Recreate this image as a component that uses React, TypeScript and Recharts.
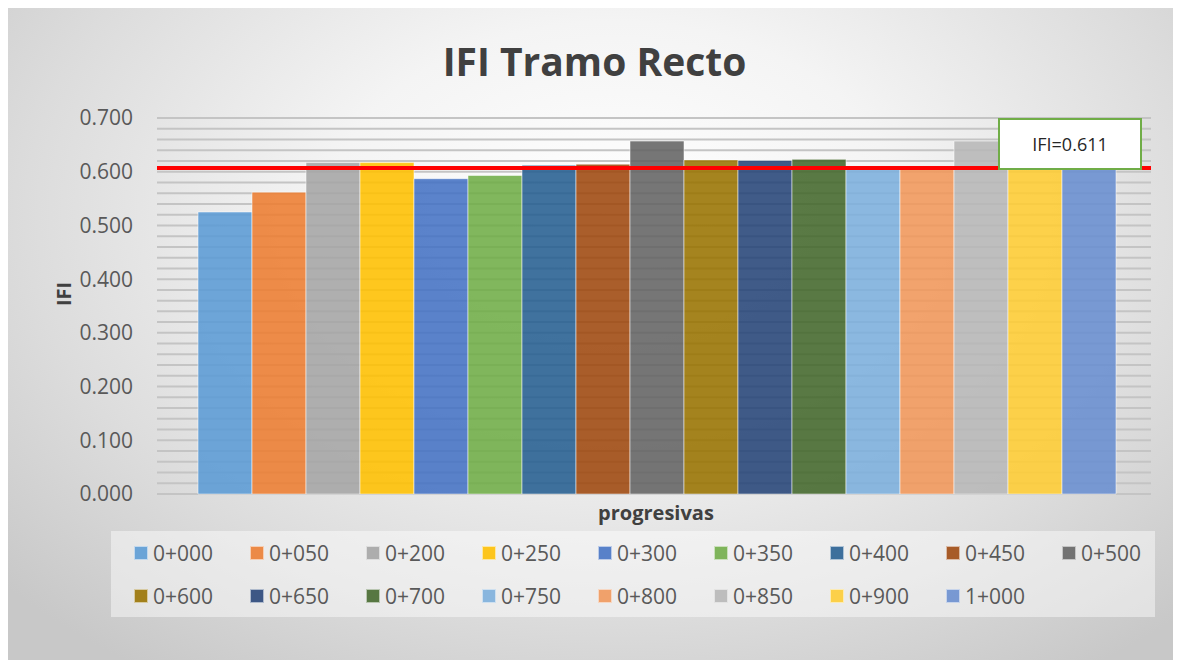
import React from "react"
import { Bar, BarChart, CartesianGrid, ReferenceLine, XAxis, YAxis } from "recharts"

const progresivas = [
  "0+000", "0+050", "0+200", "0+250", "0+300", "0+350", "0+400", "0+450", "0+500",
  "0+600", "0+650", "0+700", "0+750", "0+800", "0+850", "0+900", "1+000",
]
const ifiValues = [
  0.525, 0.562, 0.617, 0.617, 0.587, 0.593, 0.612, 0.614, 0.657,
  0.622, 0.621, 0.623, 0.608, 0.608, 0.657, 0.62, 0.612,
]
const barColors = [
  "#5b9bd5", "#ed7d31", "#a5a5a5", "#ffc000", "#4472c4", "#70ad47", "#255e91", "#9e480e", "#636363",
  "#997300", "#264478", "#43682b", "#7cafdd", "#f1975a", "#b7b7b7", "#ffcd33", "#698ed0",
]
const yTicks = [0, 0.1, 0.2, 0.3, 0.4, 0.5, 0.6, 0.7]
const ifiLine = 0.607
const ifiLabel = "IFI=0.611"

// minor gridlines every 0.02
const gridValues = Array.from({ length: 36 }, (_, i) => Math.round(i * 2) / 100)

const row: Record<string, number | string> = { cat: "" }
progresivas.forEach((p, i) => {
  row["s" + i] = ifiValues[i]
})
const data = [row]

const FONT = "'Open Sans', 'Noto Sans', sans-serif"
const TEXT = "#595959"

export default function App() {
  return (
    <div
      style={{
        position: "relative",
        width: 1167,
        height: 653,
        marginLeft: -1,
        marginTop: -1,
        overflow: "hidden",
        fontFamily: FONT,
        background:
          "radial-gradient(ellipse 70% 85% at 52% 32%, #ffffff 0%, #f4f4f4 35%, #dcdcdc 72%, #c8c8c8 100%)",
      }}
    >
      <div
        style={{
          position: "absolute",
          left: 0,
          width: 1175,
          top: 27,
          textAlign: "center",
          fontSize: 39,
          fontWeight: 700,
          color: "#404040",
        }}
      >
        IFI Tramo Recto
      </div>

      <BarChart
        width={1167}
        height={653}
        data={data}
        margin={{ top: 111, right: 23, bottom: 166, left: 70 }}
        barCategoryGap={41}
        barGap={0}
        style={{ position: "absolute", left: 0, top: 0 }}
      >
        <CartesianGrid
          vertical={false}
          horizontalValues={gridValues}
          stroke="#c4c4c4"
          strokeWidth={2}
        />
        <XAxis dataKey="cat" hide />
        <YAxis
          width={80}
          domain={[0, 0.7]}
          ticks={yTicks}
          interval={0}
          axisLine={false}
          tickLine={false}
          tickSize={0}
          tickMargin={24}
          tickFormatter={(v: number) => v.toFixed(3)}
          tick={{ fontSize: 21, fill: TEXT, fontFamily: FONT }}
          label={{
            value: "IFI",
            angle: -90,
            position: "insideLeft",
            offset: -13,
            style: { fontSize: 20, fontWeight: 700, fill: "#404040", fontFamily: FONT },
          }}
        />
        {progresivas.map((p, i) => (
          <Bar
            key={p}
            dataKey={"s" + i}
            name={p}
            fill={barColors[i]}
            fillOpacity={0.88}
            stroke="#ffffff"
            strokeOpacity={0.5}
            strokeWidth={1}
            isAnimationActive={false}
          />
        ))}
        <ReferenceLine y={ifiLine} stroke="#ff0000" strokeWidth={4} />
      </BarChart>

      <div
        style={{
          position: "absolute",
          left: 991,
          top: 111,
          width: 140,
          height: 48,
          background: "#ffffff",
          border: "2px solid #70ad47",
          display: "flex",
          alignItems: "center",
          justifyContent: "center",
          fontSize: 18,
          color: "#262626",
        }}
      >
        {ifiLabel}
      </div>

      <div
        style={{
          position: "absolute",
          left: 0,
          width: 1298,
          top: 492,
          textAlign: "center",
          fontSize: 20,
          fontWeight: 700,
          color: "#404040",
        }}
      >
        progresivas
      </div>

      <div
        style={{
          position: "absolute",
          left: 104,
          top: 524,
          width: 1044,
          height: 86,
          background: "rgba(255,255,255,0.45)",
        }}
      >
        {progresivas.map((p, i) => (
          <div
            key={p}
            style={{
              position: "absolute",
              left: 23 + (i % 9) * 116,
              top: i < 9 ? 8 : 51,
              display: "flex",
              alignItems: "center",
              height: 28,
              fontSize: 21,
              color: TEXT,
              whiteSpace: "nowrap",
            }}
          >
            <span
              style={{
                display: "inline-block",
                width: 12,
                height: 12,
                background: barColors[i],
                opacity: 0.88,
                border: "1px solid rgba(255,255,255,0.6)",
                marginRight: 5,
              }}
            />
            {p}
          </div>
        ))}
      </div>
    </div>
  )
}
